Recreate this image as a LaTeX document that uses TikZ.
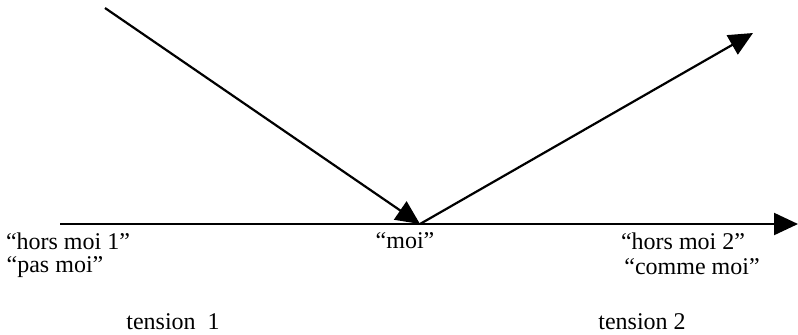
\documentclass[tikz,border=0pt]{standalone}
\usepackage{fontspec}
\setmainfont{Liberation Serif}
\usetikzlibrary{arrows.meta}
\begin{document}
\begin{tikzpicture}[x=0.5pt, y=-0.5pt]
        \tikzstyle{tension_axe} = [line width=1.1pt, -{Triangle[length=12pt, width=11pt]}]
        \tikzstyle{tension_label} = [inner sep=0pt, font=\fontsize{12pt}{14pt}\selectfont]

        \useasboundingbox (0,0) rectangle (798,334);

        \coordinate (axe_start) at (60, 224);
        \coordinate (axe_end)   at (798, 224);
        \coordinate (moi)       at (420, 224);
        \coordinate (haut_g)    at (105, 8);
        \coordinate (haut_d)    at (753, 33);

        \node[tension_label] at (68, 241)  (hm1)  {“hors moi 1”};
        \node[tension_label] at (55, 267)  (pm)   {“pas moi”};
        \node[tension_label] at (405, 241) (m)    {“moi”};
        \node[tension_label] at (683, 241) (hm2)  {“hors moi 2”};
        \node[tension_label] at (692, 267) (cm)   {“comme moi”};
        \node[tension_label] at (173, 322) (t1)   {tension\ \ 1};
        \node[tension_label] at (642, 322) (t2)   {tension 2};

        \draw[tension_axe] (axe_start) -- (axe_end);
        \draw[tension_axe] (haut_g) -- (moi);
        \draw[tension_axe] (moi) -- (haut_d);
      \end{tikzpicture}
\end{document}
